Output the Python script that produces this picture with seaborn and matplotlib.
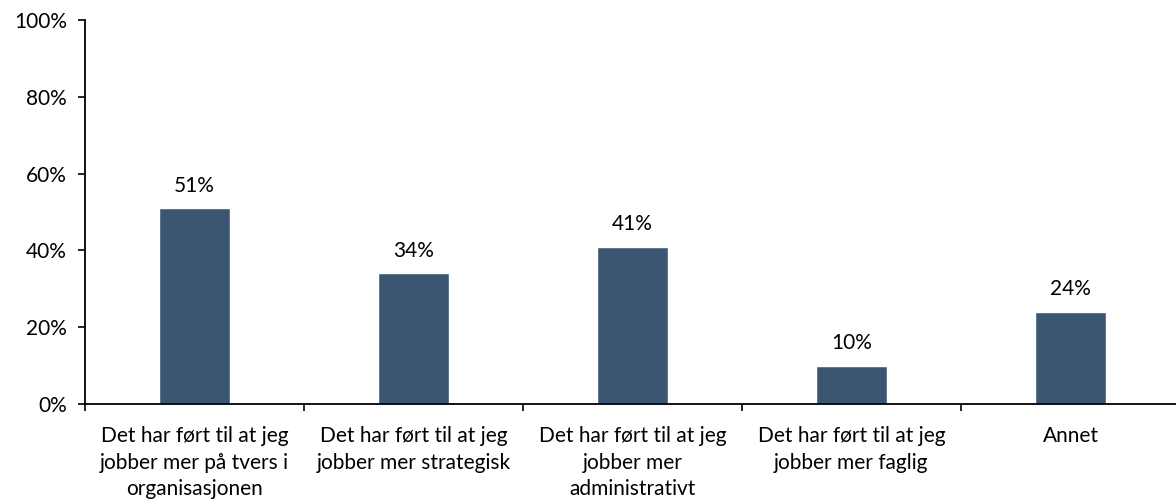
import matplotlib
matplotlib.use("Agg")
import matplotlib.pyplot as plt
import seaborn as sns
import pandas as pd
from matplotlib.ticker import PercentFormatter

categories = [
    "Det har ført til at jeg\njobber mer på tvers i\norganisasjonen",
    "Det har ført til at jeg\njobber mer strategisk",
    "Det har ført til at jeg\njobber mer\nadministrativt",
    "Det har ført til at jeg\njobber mer faglig",
    "Annet",
]
values = [51, 34, 41, 10, 24]
y_ticks = [0, 20, 40, 60, 80, 100]

sns.set_style("white")
plt.rcParams['font.family'] = ['Lato', 'DejaVu Sans']

df = pd.DataFrame({"cat": categories, "val": values})

fs = 15
fig = plt.figure(figsize=(11.76, 5.04), dpi=100)
ax = fig.add_axes([85/1176, 100/504, 1095/1176, 384/504])
sns.barplot(data=df, x="cat", y="val", color="#3B5673", saturation=1,
            width=0.32, ax=ax)
ax.set_xlim(-0.5, 4.5)
ax.set_ylim(0, 100)
ax.set_yticks(y_ticks)
ax.yaxis.set_major_formatter(PercentFormatter(decimals=0))
ax.set_xlabel("")
ax.set_ylabel("")

# category boundary ticks
ax.set_xticks([i + 0.5 for i in range(-1, 5)], minor=False)
ax.set_xticklabels([])
ax.set_xticks(range(5), minor=True)
ax.set_xticklabels(categories, minor=True, fontsize=fs, color="#000000", linespacing=1.4)
ax.tick_params(axis="x", which="major", direction="out", length=5, width=1.2, color="black", bottom=True)
ax.tick_params(axis="x", which="minor", length=0, pad=16)
ax.tick_params(axis="y", direction="out", length=5, width=1.2, color="black", left=True, labelsize=fs, labelcolor="black", pad=8)

for s in ["top", "right"]:
    ax.spines[s].set_visible(False)
for s in ["left", "bottom"]:
    ax.spines[s].set_color("black")
    ax.spines[s].set_linewidth(1.3)

for c in ax.containers:
    ax.bar_label(c, labels=[f"{v:.0f}%" for v in values], padding=9, fontsize=fs, color="black")

fig.savefig("out.png", dpi=100)
